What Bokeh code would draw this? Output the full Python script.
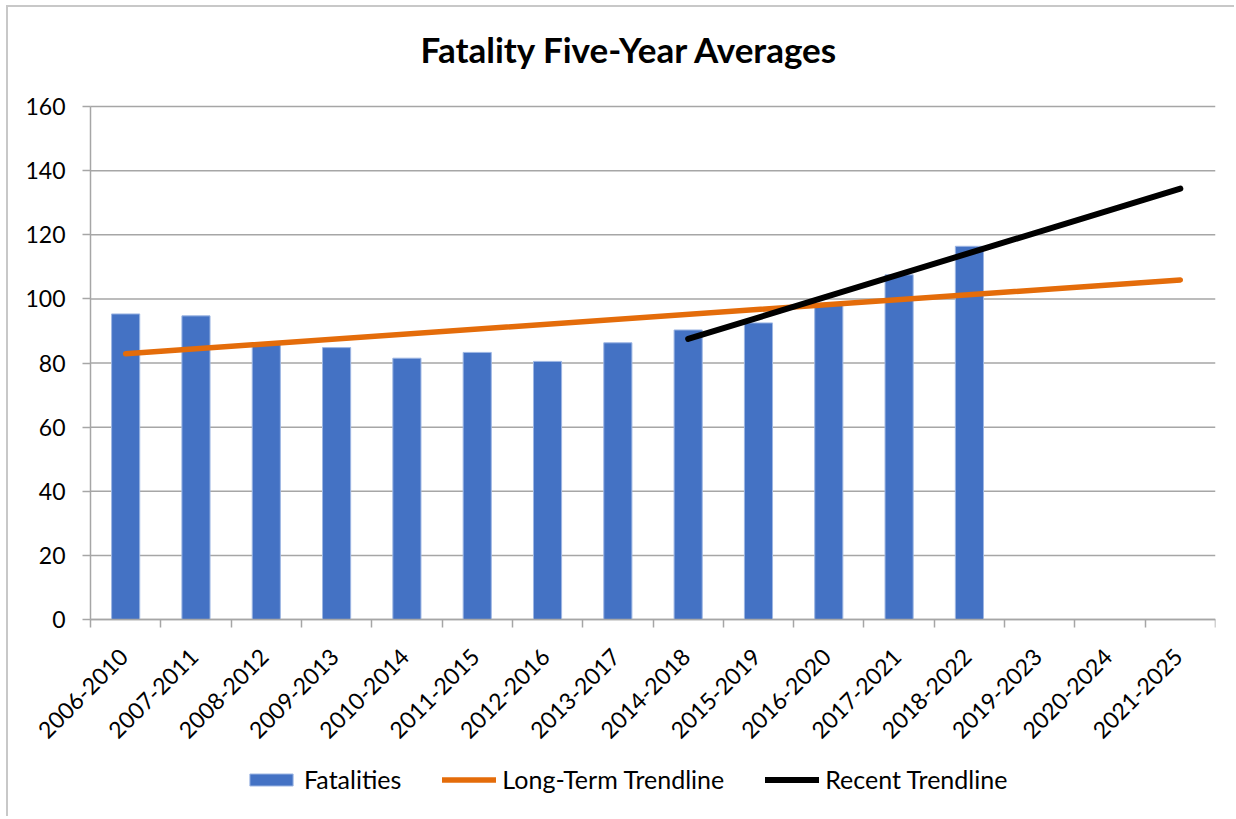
import numpy as np
from bokeh.plotting import figure
from bokeh.models import FixedTicker, Legend, LegendItem, ColumnDataSource
from bokeh.embed import file_html
from bokeh.resources import INLINE

# ---- data ----
periods = ["2006-2010", "2007-2011", "2008-2012", "2009-2013", "2010-2014",
           "2011-2015", "2012-2016", "2013-2017", "2014-2018", "2015-2019",
           "2016-2020", "2017-2021", "2018-2022", "2019-2023", "2020-2024",
           "2021-2025"]
fatalities = [95.3, 94.7, 86.0, 84.8, 81.5, 83.3, 80.5, 86.3, 90.3, 92.5,
              98.6, 107.5, 116.4]
long_term_periods = ["2006-2010", "2021-2025"]
long_term_values = [82.9, 105.9]
recent_periods = ["2014-2018", "2021-2025"]
recent_values = [87.5, 134.4]
y_ticks = [0, 20, 40, 60, 80, 100, 120, 140, 160]

FONT = "Lato"
GRID = "#a6a6a6"
LABEL_SHIFT = -0.03  # label anchor shift (Excel-style rotated labels)

idx = {p: i for i, p in enumerate(periods)}
n = len(periods)
x_lo, x_hi = -0.5, n - 0.5
y_max = 160

# plot area: 1125 x 513 px for 16 categories x (0..160); the frame extends
# further left, above and below so axis labels and legend sit inside it
PLOT_W, PLOT_H = 1125, 513
EXTRA_L, EXTRA_B, EXTRA_T = 80, 197, 20
ux = n / PLOT_W
uy = y_max / PLOT_H

p = figure(frame_width=PLOT_W + EXTRA_L, frame_height=PLOT_H + EXTRA_B + EXTRA_T,
           output_backend="svg", toolbar_location=None,
           x_range=(x_lo - EXTRA_L * ux, x_hi),
           y_range=(-EXTRA_B * uy, y_max + EXTRA_T * uy),
           min_border_left=2, min_border_right=19, min_border_top=99 - EXTRA_T,
           min_border_bottom=0)
p.outline_line_color = None
p.background_fill_color = "white"
p.border_fill_color = "white"
p.styles = {"border-left": "2px solid #c8c8c8", "border-top": "2px solid #c8c8c8",
            "margin-left": "6px", "margin-top": "5px"}

# horizontal gridlines over the category span only
p.segment(x0=[x_lo] * len(y_ticks), y0=y_ticks, x1=[x_hi] * len(y_ticks),
          y1=y_ticks, line_color=GRID, line_width=1.5)
p.xgrid.grid_line_color = None
p.ygrid.grid_line_color = None

bar_src = ColumnDataSource(dict(x=[idx[q] for q in periods[:len(fatalities)]],
                                top=fatalities))
bars = p.vbar(x="x", top="top", width=0.4, bottom=0, source=bar_src,
              fill_color="#4472C4", line_color="#9db6e3", line_width=1)

lt = p.line([idx[q] for q in long_term_periods], long_term_values,
            line_color="#E46C0A", line_width=5.5, line_cap="round")
rc = p.line([idx[q] for q in recent_periods], recent_values,
            line_color="black", line_width=6, line_cap="round")

# title
p.title.text = "Fatality Five-Year Averages"
p.title.align = "left"
p.title.offset = 330 + EXTRA_L
p.title.text_font = FONT
p.title.text_font_style = "bold"
p.title.text_font_size = "35px"
p.title.text_color = "black"
p.title.standoff = 54 - EXTRA_T

# y axis at the left edge of the category span
p.yaxis.fixed_location = x_lo
p.yaxis.ticker = FixedTicker(ticks=y_ticks)
p.yaxis.bounds = (0, y_max)
p.yaxis.axis_line_color = GRID
p.yaxis.axis_line_width = 1.5
p.yaxis.major_tick_line_color = GRID
p.yaxis.major_tick_line_width = 1.5
p.yaxis.major_tick_out = 8
p.yaxis.major_tick_in = 0
p.yaxis.minor_tick_line_color = None
p.yaxis.major_label_standoff = 17
p.yaxis.major_label_text_font = FONT
p.yaxis.major_label_text_font_size = "23px"
p.yaxis.major_label_text_color = "black"

# x axis at value 0: labels near centers, ticks at boundaries
label_pos = [i + LABEL_SHIFT for i in range(n)]
p.xaxis.fixed_location = 0
p.xaxis.bounds = (x_lo, x_hi)
p.xaxis.ticker = FixedTicker(ticks=label_pos,
                             minor_ticks=[i - 0.5 for i in range(n + 1)])
p.xaxis.major_label_overrides = {pos: q for pos, q in zip(label_pos, periods)}
p.xaxis.major_label_orientation = np.pi / 4
p.xaxis.major_tick_line_color = None
p.xaxis.minor_tick_line_color = GRID
p.xaxis.minor_tick_line_width = 1.5
p.xaxis.minor_tick_out = 8
p.xaxis.minor_tick_in = 0
p.xaxis.axis_line_color = GRID
p.xaxis.axis_line_width = 1.5
p.xaxis.major_label_standoff = 25
p.xaxis.major_label_text_font = FONT
p.xaxis.major_label_text_font_size = "23px"
p.xaxis.major_label_text_color = "black"

legend = Legend(items=[LegendItem(label="Fatalities", renderers=[bars]),
                       LegendItem(label="Long-Term Trendline", renderers=[lt]),
                       LegendItem(label="Recent Trendline", renderers=[rc])],
                orientation="horizontal", location=(154 + EXTRA_L, 22),
                border_line_color=None, background_fill_alpha=0,
                label_text_font=FONT, label_text_font_size="25px",
                label_text_color="black", glyph_width=54, glyph_height=15,
                label_standoff=6, spacing=41, margin=0, padding=4)
p.add_layout(legend, "center")

open("out.html", "w").write(file_html(p, INLINE))
